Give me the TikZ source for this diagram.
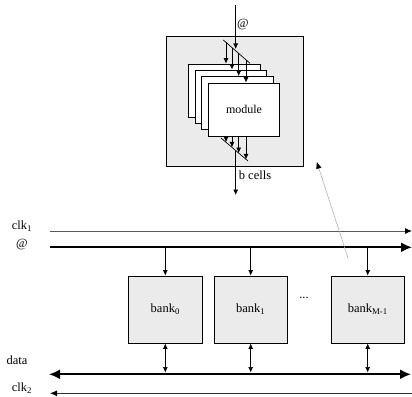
\documentclass[tikz,border=0pt]{standalone}
\usepackage{fontspec}
\setmainfont{Liberation Serif}
\usetikzlibrary{arrows.meta,calc}
\definecolor{boxgray}{HTML}{EBEBEB}
\tikzset{
  lbl/.style={font=\fontsize{12.5}{14}\selectfont, inner sep=0pt},
  card/.style={draw=black, fill=white, line width=0.8pt, minimum width=71.5pt, minimum height=53pt, inner sep=0pt, anchor=center},
  outerbox/.style={draw=black, fill=boxgray, line width=0.8pt, minimum width=137pt, minimum height=130pt, inner sep=0pt},
  bankbox/.style={draw=black, fill=boxgray, line width=0.8pt, minimum width=73.5pt, minimum height=67pt, inner sep=0pt, font=\fontsize{12.5}{14}\selectfont},
  small/.style={-{Latex[length=5.5pt,width=5pt]}, line width=0.7pt},
  smallbi/.style={{Latex[length=5.5pt,width=5pt]}-{Latex[length=5.5pt,width=5pt]}, line width=0.7pt},
  bus/.style={line width=2pt},
  diag/.style={line width=0.7pt}
}
\begin{document}
\begin{tikzpicture}[x=1pt,y=-1pt]
\useasboundingbox (0,0) rectangle (412,396);

% ---- module detail ----
\node[outerbox] (outer) at (234.5,101) {};
\node[card] (c1) at (224.5,90.5) {};
\node[card] (c2) at (231,96.5) {};
\node[card] (c3) at (237.5,103) {};
\node[card] (c4) at (244,109.5) {\fontsize{12}{14}\selectfont module};

\coordinate (ta) at (223.3,40);
\coordinate (tb) at (250,63.3);
\draw[diag] (ta) -- (tb);
\coordinate (ba) at (221,138);
\coordinate (bb) at (248,161);
\draw[diag] (ba) -- (bb);

\coordinate (in) at (235.7,5);
\coordinate (out) at (235.7,195);
\draw[small] (in) -- (235.7,49);
\draw[small] (235.7,150.5) -- (out);

\coordinate (t1) at (226,42.4);
\coordinate (t2) at (232,47.6);
\coordinate (t3) at (238.7,53.4);
\coordinate (t4) at (246,59.9);
\draw[small] (t1) -- (t1 |- c1.north);
\draw[small] (t2) -- (t2 |- c2.north);
\draw[small] (t3) -- (t3 |- c3.north);
\draw[small] (t4) -- (t4 |- c4.north);

\coordinate (u1) at (226,142.2);
\coordinate (u2) at (232,147.3);
\coordinate (u3) at (238.7,153);
\coordinate (u4) at (246,159.3);
\draw[small] (u1 |- c4.south) -- (u1);
\draw[small] (u2 |- c4.south) -- (u2);
\draw[small] (u3 |- c4.south) -- (u3);
\draw[small] (u4 |- c4.south) -- (u4);

\node[lbl] (at1) at (243,25) {@};
\node[lbl] (bc) at (255,175) {b cells};

% ---- banks ----
\node[lbl] (lclk1) at (22,226) {clk\textsubscript{1}};
\node[lbl] (lat) at (22,245) {@};
\node[lbl] (ldata) at (17,360) {data};
\node[lbl] (lclk2) at (22,388) {clk\textsubscript{2}};

\coordinate (c1s) at (50,231);
\coordinate (c1e) at (412,231);
\draw[line width=1pt, draw=black!65, -{Latex[length=7pt,width=6pt,color=black]}] (c1s) -- (c1e);

\coordinate (as) at (50,247.3);
\coordinate (ae) at (412,247.3);
\draw[bus, -{Latex[length=11pt,width=10pt]}] (as) -- (ae);

\node[bankbox] (b0) at (165.3,309.5) {bank\textsubscript{0}};
\node[bankbox] (b1) at (250.7,309.5) {bank\textsubscript{1}};
\node[bankbox] (bm) at (367.7,309.5) {bank\textsubscript{M-1}};
\node[lbl] (dots) at (304,298) {...};

\draw[small] (b0.north |- as) -- (b0.north);
\draw[small] (b1.north |- as) -- (b1.north);
\draw[small] (bm.north |- as) -- (bm.north);

\coordinate (ds) at (49,374.3);
\coordinate (de) at (411,374.3);
\coordinate (dtop) at (0,372.5);
\draw[bus, {Latex[length=11pt,width=10pt]}-{Latex[length=11pt,width=10pt]}] (ds) -- (de);

\draw[smallbi] (b0.south) -- (b0.south |- dtop);
\draw[smallbi] (b1.south) -- (b1.south |- dtop);
\draw[smallbi] (bm.south) -- (bm.south |- dtop);

\coordinate (c2s) at (412,393.3);
\coordinate (c2e) at (50,393.3);
\draw[line width=0.8pt, draw=black!80, -{Latex[length=7pt,width=6pt,color=black]}] (c2s) -- (c2e);

% ---- zoom pointer ----
\coordinate (ps) at (348.3,259);
\coordinate (pe) at (316.7,161.7);
\draw[line width=0.5pt, draw=black!35, -{Latex[length=7pt,width=5.5pt,fill=black,color=black]}] (ps) -- (pe);
\end{tikzpicture}
\end{document}
